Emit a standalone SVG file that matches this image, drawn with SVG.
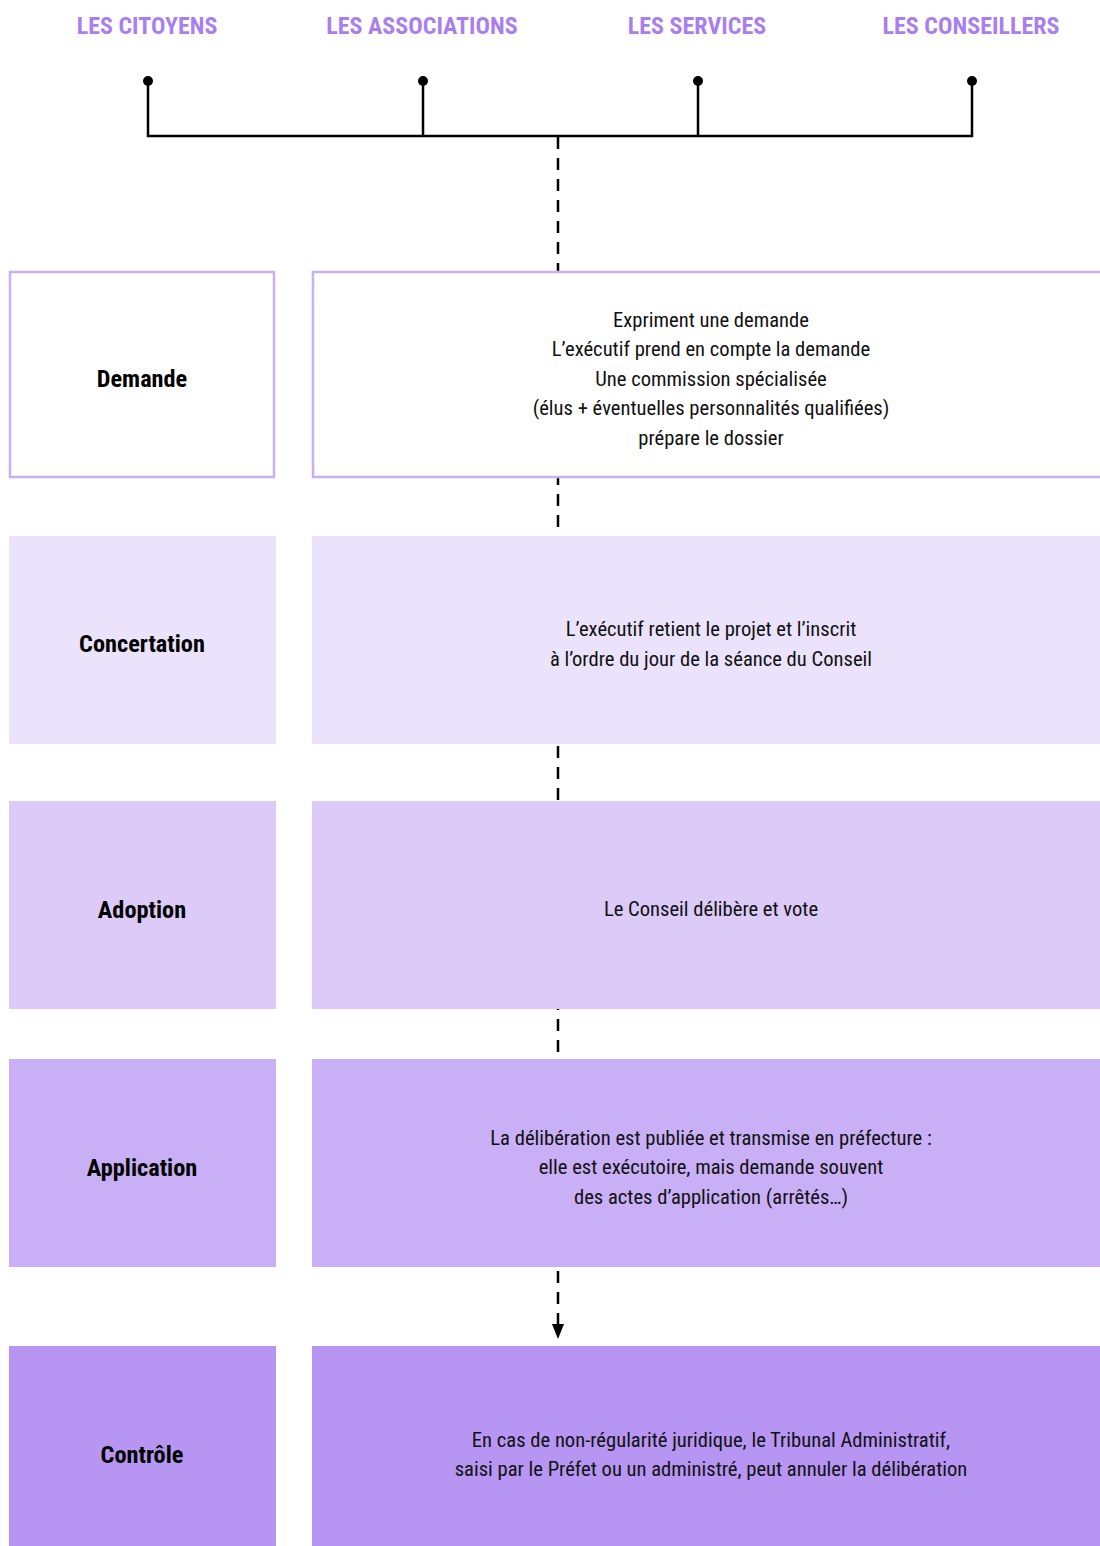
<svg xmlns="http://www.w3.org/2000/svg" width="1100" height="1546" viewBox="0 0 1100 1546">
<style>
.hdr{font-family:"Roboto Condensed","Liberation Sans Narrow","DejaVu Sans Condensed",Roboto,sans-serif;font-stretch:condensed;font-weight:bold;font-size:24px;fill:#a97ff0;text-anchor:middle}
.lbl{font-family:"Roboto Condensed","Liberation Sans Narrow","DejaVu Sans Condensed",Roboto,sans-serif;font-stretch:condensed;font-weight:bold;font-size:24.3px;fill:#000;text-anchor:middle}
.txt{font-family:"Roboto Condensed","Liberation Sans Narrow","DejaVu Sans Condensed",Roboto,sans-serif;font-stretch:condensed;font-size:20.6px;fill:#111;text-anchor:middle}
.wire{stroke:#000;stroke-width:2.5;fill:none}
.dash{stroke:#000;stroke-width:2.5;fill:none;stroke-dasharray:12 9}
</style>
<rect width="1100" height="1546" fill="#fff"/>
<g id="connectors">
<line class="dash" x1="558" y1="137" x2="558" y2="1324"/>
<path d="M552,1324 L564,1324 L558,1339 Z" fill="#000"/>
<path class="wire" d="M148,81 V136 H972 V81 M423,81 V136 M698,81 V136"/>
<circle cx="148" cy="81" r="5" fill="#000"/>
<circle cx="423" cy="81" r="5" fill="#000"/>
<circle cx="698" cy="81" r="5" fill="#000"/>
<circle cx="972" cy="81" r="5" fill="#000"/>
</g>
<g id="h-citoyens"><text class="hdr" x="147" y="34">LES CITOYENS</text></g>
<g id="h-associations"><text class="hdr" x="422" y="34">LES ASSOCIATIONS</text></g>
<g id="h-services"><text class="hdr" x="697" y="34">LES SERVICES</text></g>
<g id="h-conseillers"><text class="hdr" x="971" y="34">LES CONSEILLERS</text></g>

<g id="demande-label">
<rect x="10" y="272" width="264" height="205" fill="#fff" stroke="#c8b0f5" stroke-width="2.5"/>
<text class="lbl" x="142" y="387">Demande</text>
</g>
<g id="demande-text">
<rect x="313" y="272" width="800" height="205" fill="#fff" stroke="#c8b0f5" stroke-width="2.5"/>
<text class="txt" x="711" y="327">Expriment une demande</text>
<text class="txt" x="711" y="356">L’exécutif prend en compte la demande</text>
<text class="txt" x="711" y="386">Une commission spécialisée</text>
<text class="txt" x="711" y="415">(élus + éventuelles personnalités qualifiées)</text>
<text class="txt" x="711" y="445">prépare le dossier</text>
</g>

<g id="concertation-label">
<rect x="9" y="536" width="267" height="208" fill="#ebe3fb"/>
<text class="lbl" x="142" y="652">Concertation</text>
</g>
<g id="concertation-text">
<rect x="312" y="536" width="788" height="208" fill="#ebe3fb"/>
<text class="txt" x="711" y="636">L’exécutif retient le projet et l’inscrit</text>
<text class="txt" x="711" y="666">à l’ordre du jour de la séance du Conseil</text>
</g>

<g id="adoption-label">
<rect x="9" y="801" width="267" height="208" fill="#dccbf8"/>
<text class="lbl" x="142" y="918">Adoption</text>
</g>
<g id="adoption-text">
<rect x="312" y="801" width="788" height="208" fill="#dccbf8"/>
<text class="txt" x="711" y="916">Le Conseil délibère et vote</text>
</g>

<g id="application-label">
<rect x="9" y="1059" width="267" height="208" fill="#c9aff6"/>
<text class="lbl" x="142" y="1176">Application</text>
</g>
<g id="application-text">
<rect x="312" y="1059" width="788" height="208" fill="#c9aff6"/>
<text class="txt" x="711" y="1145">La délibération est publiée et transmise en préfecture :</text>
<text class="txt" x="711" y="1174">elle est exécutoire, mais demande souvent</text>
<text class="txt" x="711" y="1204">des actes d’application (arrêtés…)</text>
</g>

<g id="controle-label">
<rect x="9" y="1346" width="267" height="200" fill="#b795f3"/>
<text class="lbl" x="142" y="1463">Contrôle</text>
</g>
<g id="controle-text">
<rect x="312" y="1346" width="788" height="200" fill="#b795f3"/>
<text class="txt" x="711" y="1447">En cas de non-régularité juridique, le Tribunal Administratif,</text>
<text class="txt" x="711" y="1476">saisi par le Préfet ou un administré, peut annuler la délibération</text>
</g>
</svg>
